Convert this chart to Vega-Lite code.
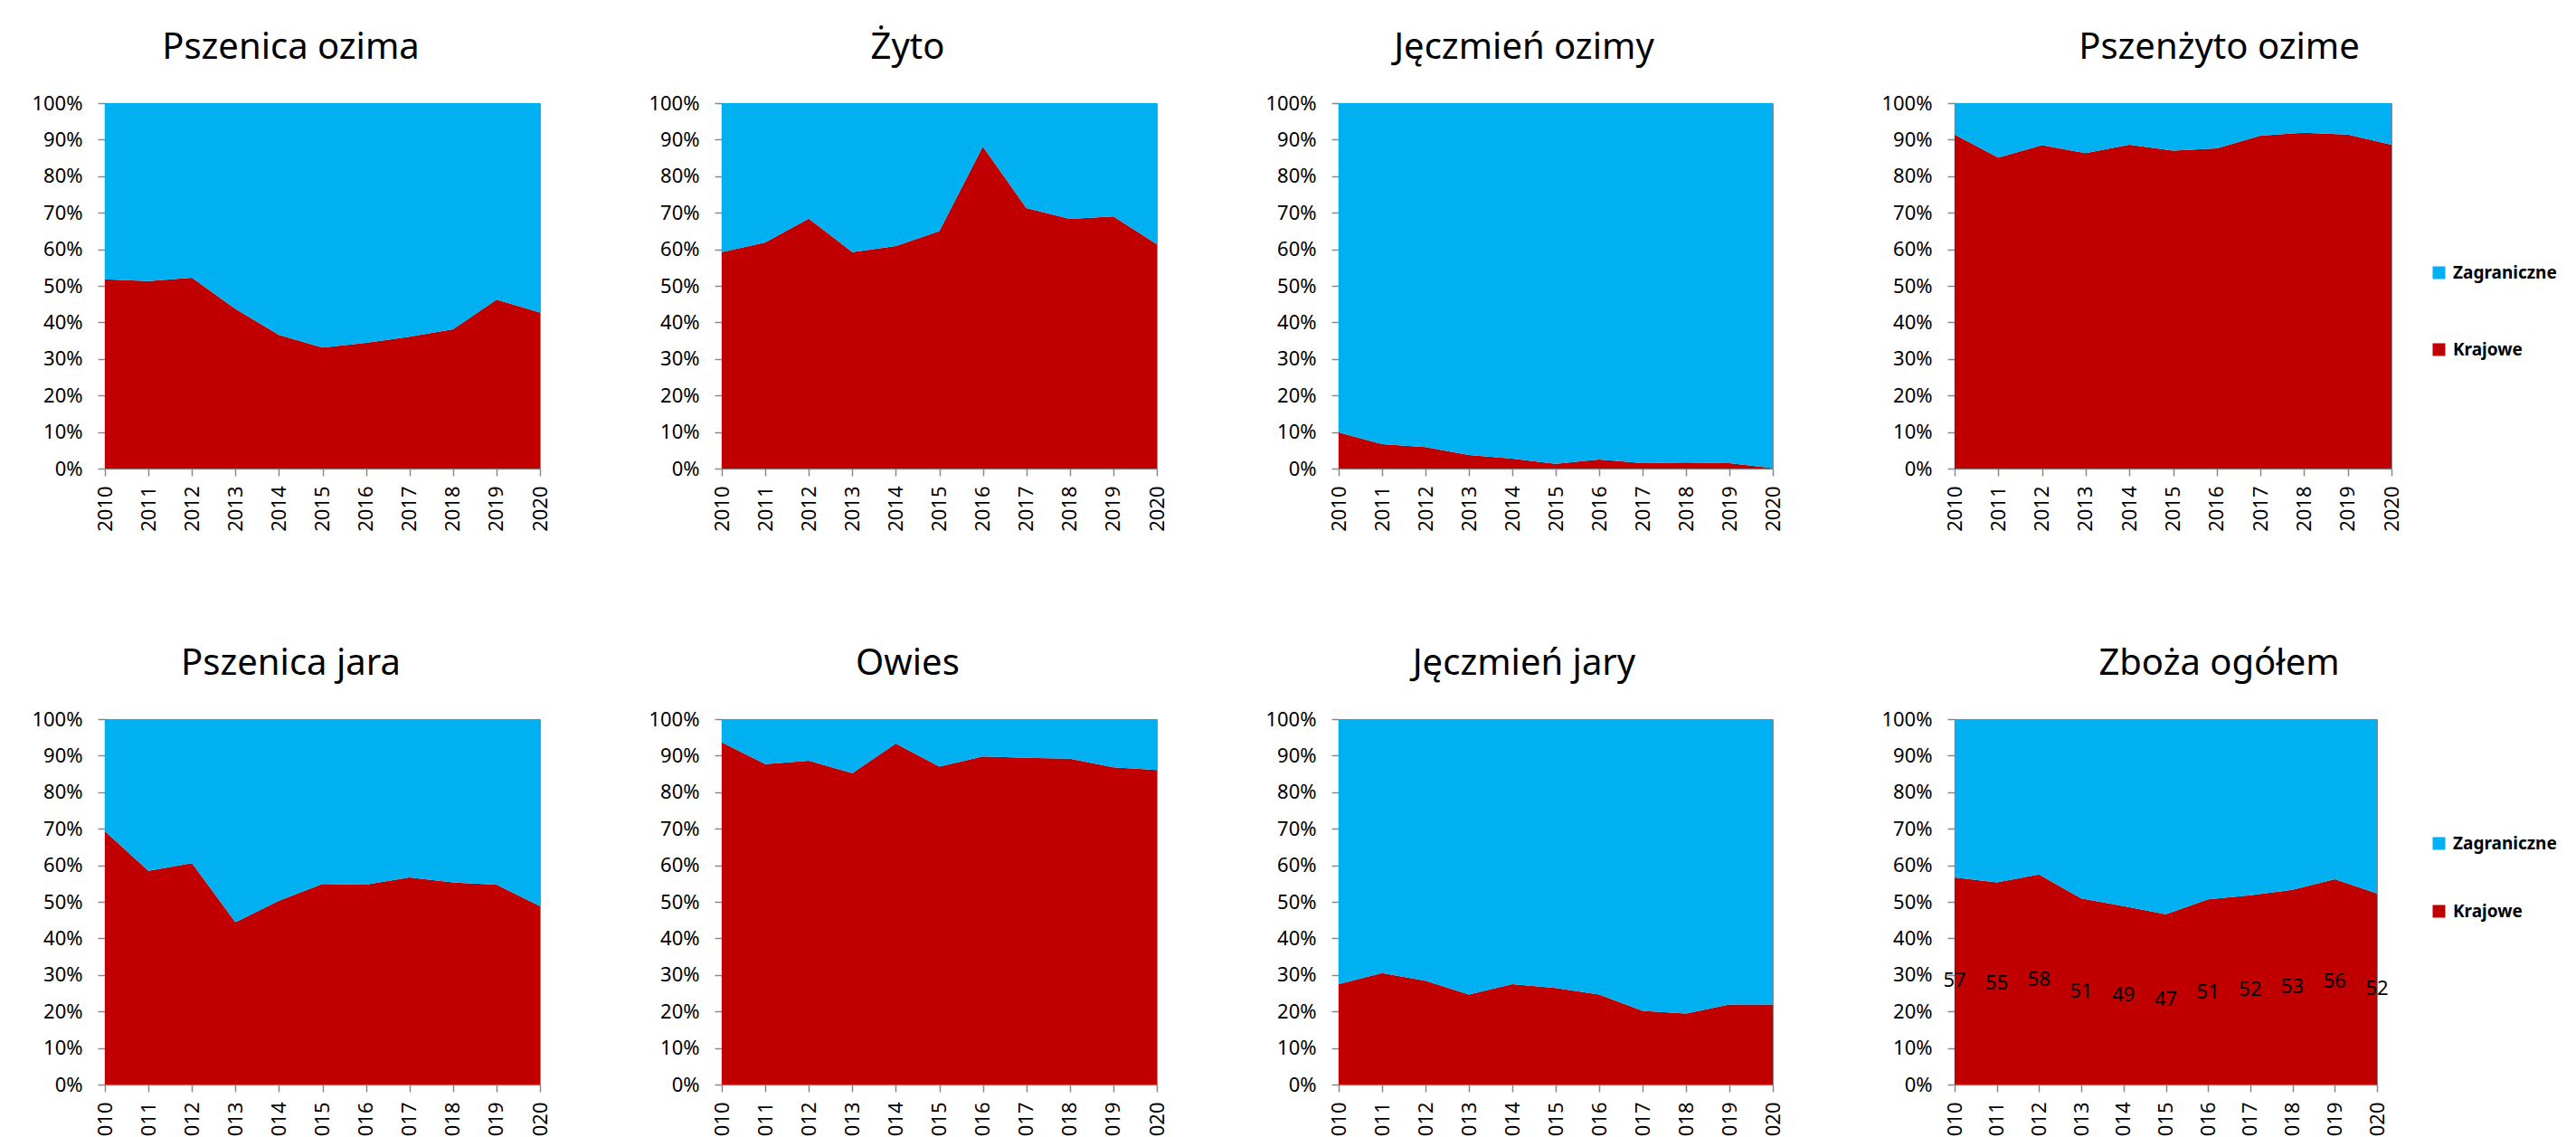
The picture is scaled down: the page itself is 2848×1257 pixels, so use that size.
{
  "$schema": "https://vega.github.io/schema/vega-lite/v6.json",
  "background": "white",
  "padding": {"left": 34, "top": 32, "right": 0, "bottom": 0},
  "datasets": {
    "d": [
      {"crop": "Pszenica ozima", "year": 2010, "Krajowe": 51.8, "Zagraniczne": 48.2},
      {"crop": "Pszenica ozima", "year": 2011, "Krajowe": 51.3, "Zagraniczne": 48.7},
      {"crop": "Pszenica ozima", "year": 2012, "Krajowe": 52.2, "Zagraniczne": 47.8},
      {"crop": "Pszenica ozima", "year": 2013, "Krajowe": 43.7, "Zagraniczne": 56.3},
      {"crop": "Pszenica ozima", "year": 2014, "Krajowe": 36.6, "Zagraniczne": 63.4},
      {"crop": "Pszenica ozima", "year": 2015, "Krajowe": 33.1, "Zagraniczne": 66.9},
      {"crop": "Pszenica ozima", "year": 2016, "Krajowe": 34.4, "Zagraniczne": 65.6},
      {"crop": "Pszenica ozima", "year": 2017, "Krajowe": 36.1, "Zagraniczne": 63.9},
      {"crop": "Pszenica ozima", "year": 2018, "Krajowe": 38.1, "Zagraniczne": 61.9},
      {"crop": "Pszenica ozima", "year": 2019, "Krajowe": 46.2, "Zagraniczne": 53.8},
      {"crop": "Pszenica ozima", "year": 2020, "Krajowe": 42.7, "Zagraniczne": 57.3},
      {"crop": "Żyto", "year": 2010, "Krajowe": 59.2, "Zagraniczne": 40.8},
      {"crop": "Żyto", "year": 2011, "Krajowe": 61.9, "Zagraniczne": 38.1},
      {"crop": "Żyto", "year": 2012, "Krajowe": 68.4, "Zagraniczne": 31.6},
      {"crop": "Żyto", "year": 2013, "Krajowe": 59.2, "Zagraniczne": 40.8},
      {"crop": "Żyto", "year": 2014, "Krajowe": 60.9, "Zagraniczne": 39.1},
      {"crop": "Żyto", "year": 2015, "Krajowe": 65.0, "Zagraniczne": 35.0},
      {"crop": "Żyto", "year": 2016, "Krajowe": 88.1, "Zagraniczne": 11.9},
      {"crop": "Żyto", "year": 2017, "Krajowe": 71.3, "Zagraniczne": 28.7},
      {"crop": "Żyto", "year": 2018, "Krajowe": 68.3, "Zagraniczne": 31.7},
      {"crop": "Żyto", "year": 2019, "Krajowe": 69.0, "Zagraniczne": 31.0},
      {"crop": "Żyto", "year": 2020, "Krajowe": 61.4, "Zagraniczne": 38.6},
      {"crop": "Jęczmień ozimy", "year": 2010, "Krajowe": 9.9, "Zagraniczne": 90.1},
      {"crop": "Jęczmień ozimy", "year": 2011, "Krajowe": 6.7, "Zagraniczne": 93.3},
      {"crop": "Jęczmień ozimy", "year": 2012, "Krajowe": 5.9, "Zagraniczne": 94.1},
      {"crop": "Jęczmień ozimy", "year": 2013, "Krajowe": 3.7, "Zagraniczne": 96.3},
      {"crop": "Jęczmień ozimy", "year": 2014, "Krajowe": 2.7, "Zagraniczne": 97.3},
      {"crop": "Jęczmień ozimy", "year": 2015, "Krajowe": 1.3, "Zagraniczne": 98.7},
      {"crop": "Jęczmień ozimy", "year": 2016, "Krajowe": 2.5, "Zagraniczne": 97.5},
      {"crop": "Jęczmień ozimy", "year": 2017, "Krajowe": 1.5, "Zagraniczne": 98.5},
      {"crop": "Jęczmień ozimy", "year": 2018, "Krajowe": 1.7, "Zagraniczne": 98.3},
      {"crop": "Jęczmień ozimy", "year": 2019, "Krajowe": 1.5, "Zagraniczne": 98.5},
      {"crop": "Jęczmień ozimy", "year": 2020, "Krajowe": 0.1, "Zagraniczne": 99.9},
      {"crop": "Pszenżyto ozime", "year": 2010, "Krajowe": 91.4, "Zagraniczne": 8.6},
      {"crop": "Pszenżyto ozime", "year": 2011, "Krajowe": 85.1, "Zagraniczne": 14.9},
      {"crop": "Pszenżyto ozime", "year": 2012, "Krajowe": 88.5, "Zagraniczne": 11.5},
      {"crop": "Pszenżyto ozime", "year": 2013, "Krajowe": 86.3, "Zagraniczne": 13.7},
      {"crop": "Pszenżyto ozime", "year": 2014, "Krajowe": 88.6, "Zagraniczne": 11.4},
      {"crop": "Pszenżyto ozime", "year": 2015, "Krajowe": 87.0, "Zagraniczne": 13.0},
      {"crop": "Pszenżyto ozime", "year": 2016, "Krajowe": 87.6, "Zagraniczne": 12.4},
      {"crop": "Pszenżyto ozime", "year": 2017, "Krajowe": 91.1, "Zagraniczne": 8.9},
      {"crop": "Pszenżyto ozime", "year": 2018, "Krajowe": 91.9, "Zagraniczne": 8.1},
      {"crop": "Pszenżyto ozime", "year": 2019, "Krajowe": 91.4, "Zagraniczne": 8.6},
      {"crop": "Pszenżyto ozime", "year": 2020, "Krajowe": 88.6, "Zagraniczne": 11.4},
      {"crop": "Pszenica jara", "year": 2010, "Krajowe": 69.3, "Zagraniczne": 30.7},
      {"crop": "Pszenica jara", "year": 2011, "Krajowe": 58.5, "Zagraniczne": 41.5},
      {"crop": "Pszenica jara", "year": 2012, "Krajowe": 60.6, "Zagraniczne": 39.4},
      {"crop": "Pszenica jara", "year": 2013, "Krajowe": 44.4, "Zagraniczne": 55.6},
      {"crop": "Pszenica jara", "year": 2014, "Krajowe": 50.3, "Zagraniczne": 49.7},
      {"crop": "Pszenica jara", "year": 2015, "Krajowe": 54.9, "Zagraniczne": 45.1},
      {"crop": "Pszenica jara", "year": 2016, "Krajowe": 54.7, "Zagraniczne": 45.3},
      {"crop": "Pszenica jara", "year": 2017, "Krajowe": 56.7, "Zagraniczne": 43.3},
      {"crop": "Pszenica jara", "year": 2018, "Krajowe": 55.3, "Zagraniczne": 44.7},
      {"crop": "Pszenica jara", "year": 2019, "Krajowe": 54.7, "Zagraniczne": 45.3},
      {"crop": "Pszenica jara", "year": 2020, "Krajowe": 48.8, "Zagraniczne": 51.2},
      {"crop": "Owies", "year": 2010, "Krajowe": 93.6, "Zagraniczne": 6.4},
      {"crop": "Owies", "year": 2011, "Krajowe": 87.7, "Zagraniczne": 12.3},
      {"crop": "Owies", "year": 2012, "Krajowe": 88.6, "Zagraniczne": 11.4},
      {"crop": "Owies", "year": 2013, "Krajowe": 85.2, "Zagraniczne": 14.8},
      {"crop": "Owies", "year": 2014, "Krajowe": 93.3, "Zagraniczne": 6.7},
      {"crop": "Owies", "year": 2015, "Krajowe": 87.0, "Zagraniczne": 13.0},
      {"crop": "Owies", "year": 2016, "Krajowe": 89.8, "Zagraniczne": 10.2},
      {"crop": "Owies", "year": 2017, "Krajowe": 89.4, "Zagraniczne": 10.6},
      {"crop": "Owies", "year": 2018, "Krajowe": 89.2, "Zagraniczne": 10.8},
      {"crop": "Owies", "year": 2019, "Krajowe": 86.8, "Zagraniczne": 13.2},
      {"crop": "Owies", "year": 2020, "Krajowe": 86.1, "Zagraniczne": 13.9},
      {"crop": "Jęczmień jary", "year": 2010, "Krajowe": 27.5, "Zagraniczne": 72.5},
      {"crop": "Jęczmień jary", "year": 2011, "Krajowe": 30.5, "Zagraniczne": 69.5},
      {"crop": "Jęczmień jary", "year": 2012, "Krajowe": 28.4, "Zagraniczne": 71.6},
      {"crop": "Jęczmień jary", "year": 2013, "Krajowe": 24.6, "Zagraniczne": 75.4},
      {"crop": "Jęczmień jary", "year": 2014, "Krajowe": 27.5, "Zagraniczne": 72.5},
      {"crop": "Jęczmień jary", "year": 2015, "Krajowe": 26.4, "Zagraniczne": 73.6},
      {"crop": "Jęczmień jary", "year": 2016, "Krajowe": 24.6, "Zagraniczne": 75.4},
      {"crop": "Jęczmień jary", "year": 2017, "Krajowe": 20.2, "Zagraniczne": 79.8},
      {"crop": "Jęczmień jary", "year": 2018, "Krajowe": 19.4, "Zagraniczne": 80.6},
      {"crop": "Jęczmień jary", "year": 2019, "Krajowe": 21.9, "Zagraniczne": 78.1},
      {"crop": "Jęczmień jary", "year": 2020, "Krajowe": 21.9, "Zagraniczne": 78.1},
      {"crop": "Zboża ogółem", "year": 2010, "Krajowe": 56.7, "Zagraniczne": 43.3},
      {"crop": "Zboża ogółem", "year": 2011, "Krajowe": 55.3, "Zagraniczne": 44.7},
      {"crop": "Zboża ogółem", "year": 2012, "Krajowe": 57.5, "Zagraniczne": 42.5},
      {"crop": "Zboża ogółem", "year": 2013, "Krajowe": 50.9, "Zagraniczne": 49.1},
      {"crop": "Zboża ogółem", "year": 2014, "Krajowe": 48.8, "Zagraniczne": 51.2},
      {"crop": "Zboża ogółem", "year": 2015, "Krajowe": 46.6, "Zagraniczne": 53.4},
      {"crop": "Zboża ogółem", "year": 2016, "Krajowe": 50.7, "Zagraniczne": 49.3},
      {"crop": "Zboża ogółem", "year": 2017, "Krajowe": 51.8, "Zagraniczne": 48.2},
      {"crop": "Zboża ogółem", "year": 2018, "Krajowe": 53.3, "Zagraniczne": 46.7},
      {"crop": "Zboża ogółem", "year": 2019, "Krajowe": 56.2, "Zagraniczne": 43.8},
      {"crop": "Zboża ogółem", "year": 2020, "Krajowe": 52.3, "Zagraniczne": 47.7}
    ]
  },
  "vconcat": [
    {
      "spacing": 107,
      "resolve": {"scale": {"color": "independent"}, "legend": {"color": "independent"}},
      "hconcat": [
        {
          "width": 481, "height": 404, "title": "Pszenica ozima",
          "data": {"name": "d"},
          "transform": [{"filter": "datum.crop === 'Pszenica ozima'"}, {"fold": ["Krajowe", "Zagraniczne"], "as": ["type", "v"]}],
          "mark": {"type": "area", "opacity": 1},
          "encoding": {
            "x": {"field": "year", "type": "ordinal", "title": null, "scale": {"padding": 0}},
            "y": {"field": "v", "type": "quantitative", "stack": "normalize", "title": null, "axis": {"values": [0, 0.1, 0.2, 0.3, 0.4, 0.5, 0.6, 0.7, 0.8, 0.9, 1], "format": ".0%"}},
            "color": {"field": "type", "type": "nominal", "scale": {"domain": ["Zagraniczne", "Krajowe"], "range": ["#00B0F0", "#C00000"]}, "legend": null},
            "order": {"field": "type", "sort": "ascending"}
          }
        },
        {
          "width": 481, "height": 404, "title": "Żyto",
          "data": {"name": "d"},
          "transform": [{"filter": "datum.crop === 'Żyto'"}, {"fold": ["Krajowe", "Zagraniczne"], "as": ["type", "v"]}],
          "mark": {"type": "area", "opacity": 1},
          "encoding": {
            "x": {"field": "year", "type": "ordinal", "title": null, "scale": {"padding": 0}},
            "y": {"field": "v", "type": "quantitative", "stack": "normalize", "title": null, "axis": {"values": [0, 0.1, 0.2, 0.3, 0.4, 0.5, 0.6, 0.7, 0.8, 0.9, 1], "format": ".0%"}},
            "color": {"field": "type", "type": "nominal", "scale": {"domain": ["Zagraniczne", "Krajowe"], "range": ["#00B0F0", "#C00000"]}, "legend": null},
            "order": {"field": "type", "sort": "ascending"}
          }
        },
        {
          "width": 480, "height": 404, "title": "Jęczmień ozimy",
          "data": {"name": "d"},
          "transform": [{"filter": "datum.crop === 'Jęczmień ozimy'"}, {"fold": ["Krajowe", "Zagraniczne"], "as": ["type", "v"]}],
          "mark": {"type": "area", "opacity": 1},
          "encoding": {
            "x": {"field": "year", "type": "ordinal", "title": null, "scale": {"padding": 0}},
            "y": {"field": "v", "type": "quantitative", "stack": "normalize", "title": null, "axis": {"values": [0, 0.1, 0.2, 0.3, 0.4, 0.5, 0.6, 0.7, 0.8, 0.9, 1], "format": ".0%"}},
            "color": {"field": "type", "type": "nominal", "scale": {"domain": ["Zagraniczne", "Krajowe"], "range": ["#00B0F0", "#C00000"]}, "legend": null},
            "order": {"field": "type", "sort": "ascending"}
          }
        },
        {
          "width": 483, "height": 404, "title": "Pszenżyto ozime",
          "data": {"name": "d"},
          "transform": [{"filter": "datum.crop === 'Pszenżyto ozime'"}, {"fold": ["Krajowe", "Zagraniczne"], "as": ["type", "v"]}],
          "mark": {"type": "area", "opacity": 1},
          "encoding": {
            "x": {"field": "year", "type": "ordinal", "title": null, "scale": {"padding": 0}},
            "y": {"field": "v", "type": "quantitative", "stack": "normalize", "title": null, "axis": {"values": [0, 0.1, 0.2, 0.3, 0.4, 0.5, 0.6, 0.7, 0.8, 0.9, 1], "format": ".0%"}},
            "color": {"field": "type", "type": "nominal", "scale": {"domain": ["Zagraniczne", "Krajowe"], "range": ["#00B0F0", "#C00000"]},
              "legend": {"orient": "none", "legendX": 526, "legendY": 178, "title": null, "symbolType": "square", "symbolSize": 196, "symbolStrokeWidth": 0, "labelFont": "Noto Sans", "labelFontWeight": "bold", "labelFontSize": 19, "labelColor": "#000000", "rowPadding": 65, "labelOffset": 6, "padding": 0}},
            "order": {"field": "type", "sort": "ascending"}
          }
        }
      ]
    },
    {
      "spacing": 107,
      "resolve": {"scale": {"color": "independent"}, "legend": {"color": "independent"}},
      "hconcat": [
        {
          "width": 481, "height": 404, "title": "Pszenica jara",
          "data": {"name": "d"},
          "transform": [{"filter": "datum.crop === 'Pszenica jara'"}, {"fold": ["Krajowe", "Zagraniczne"], "as": ["type", "v"]}],
          "mark": {"type": "area", "opacity": 1},
          "encoding": {
            "x": {"field": "year", "type": "ordinal", "title": null, "scale": {"padding": 0}},
            "y": {"field": "v", "type": "quantitative", "stack": "normalize", "title": null, "axis": {"values": [0, 0.1, 0.2, 0.3, 0.4, 0.5, 0.6, 0.7, 0.8, 0.9, 1], "format": ".0%"}},
            "color": {"field": "type", "type": "nominal", "scale": {"domain": ["Zagraniczne", "Krajowe"], "range": ["#00B0F0", "#C00000"]}, "legend": null},
            "order": {"field": "type", "sort": "ascending"}
          }
        },
        {
          "width": 481, "height": 404, "title": "Owies",
          "data": {"name": "d"},
          "transform": [{"filter": "datum.crop === 'Owies'"}, {"fold": ["Krajowe", "Zagraniczne"], "as": ["type", "v"]}],
          "mark": {"type": "area", "opacity": 1},
          "encoding": {
            "x": {"field": "year", "type": "ordinal", "title": null, "scale": {"padding": 0}},
            "y": {"field": "v", "type": "quantitative", "stack": "normalize", "title": null, "axis": {"values": [0, 0.1, 0.2, 0.3, 0.4, 0.5, 0.6, 0.7, 0.8, 0.9, 1], "format": ".0%"}},
            "color": {"field": "type", "type": "nominal", "scale": {"domain": ["Zagraniczne", "Krajowe"], "range": ["#00B0F0", "#C00000"]}, "legend": null},
            "order": {"field": "type", "sort": "ascending"}
          }
        },
        {
          "width": 480, "height": 404, "title": "Jęczmień jary",
          "data": {"name": "d"},
          "transform": [{"filter": "datum.crop === 'Jęczmień jary'"}, {"fold": ["Krajowe", "Zagraniczne"], "as": ["type", "v"]}],
          "mark": {"type": "area", "opacity": 1},
          "encoding": {
            "x": {"field": "year", "type": "ordinal", "title": null, "scale": {"padding": 0}},
            "y": {"field": "v", "type": "quantitative", "stack": "normalize", "title": null, "axis": {"values": [0, 0.1, 0.2, 0.3, 0.4, 0.5, 0.6, 0.7, 0.8, 0.9, 1], "format": ".0%"}},
            "color": {"field": "type", "type": "nominal", "scale": {"domain": ["Zagraniczne", "Krajowe"], "range": ["#00B0F0", "#C00000"]}, "legend": null},
            "order": {"field": "type", "sort": "ascending"}
          }
        },
        {
          "width": 467, "height": 404, "title": "Zboża ogółem",
          "data": {"name": "d"},
          "transform": [{"filter": "datum.crop === 'Zboża ogółem'"}],
          "layer": [
            {
              "transform": [{"fold": ["Krajowe", "Zagraniczne"], "as": ["type", "v"]}],
              "mark": {"type": "area", "opacity": 1},
              "encoding": {
                "x": {"field": "year", "type": "ordinal", "title": null, "scale": {"padding": 0}},
                "y": {"field": "v", "type": "quantitative", "stack": "normalize", "title": null, "axis": {"values": [0, 0.1, 0.2, 0.3, 0.4, 0.5, 0.6, 0.7, 0.8, 0.9, 1], "format": ".0%"}},
                "color": {"field": "type", "type": "nominal", "scale": {"domain": ["Zagraniczne", "Krajowe"], "range": ["#00B0F0", "#C00000"]},
                  "legend": {"orient": "none", "legendX": 526, "legendY": 128, "title": null, "symbolType": "square", "symbolSize": 196, "symbolStrokeWidth": 0, "labelFont": "Noto Sans", "labelFontWeight": "bold", "labelFontSize": 19, "labelColor": "#000000", "rowPadding": 55, "labelOffset": 6, "padding": 0}},
                "order": {"field": "type", "sort": "ascending"}
              }
            },
            {
              "mark": {"type": "text", "font": "Noto Sans", "fontSize": 22, "color": "#000000"},
              "encoding": {
                "x": {"field": "year", "type": "ordinal", "title": null, "scale": {"padding": 0}},
                "y": {"field": "Krajowe", "type": "quantitative", "scale": {"domain": [0, 200]}, "axis": null},
                "text": {"field": "Krajowe", "type": "quantitative", "format": ".0f"}
              }
            }
          ],
          "resolve": {"scale": {"y": "independent"}}
        }
      ]
    }
  ],
  "spacing": 125,
  "resolve": {"scale": {"color": "independent"}, "legend": {"color": "independent"}},
  "config": {
    "font": "Noto Sans",
    "view": {"stroke": "#898989", "strokeWidth": 1},
    "axis": {"labelFont": "Noto Sans", "labelFontSize": 22, "labelColor": "#000000", "domainColor": "#898989", "domainWidth": 1.5, "tickColor": "#898989", "tickWidth": 1.5, "tickSize": 8, "grid": false},
    "axisX": {"labelAngle": -90, "labelPadding": 11},
    "axisY": {"labelPadding": 17},
    "title": {"font": "Noto Sans", "fontSize": 40, "fontWeight": "normal", "color": "#000000", "anchor": "middle", "frame": "bounds", "baseline": "alphabetic", "offset": 30}
  }
}
